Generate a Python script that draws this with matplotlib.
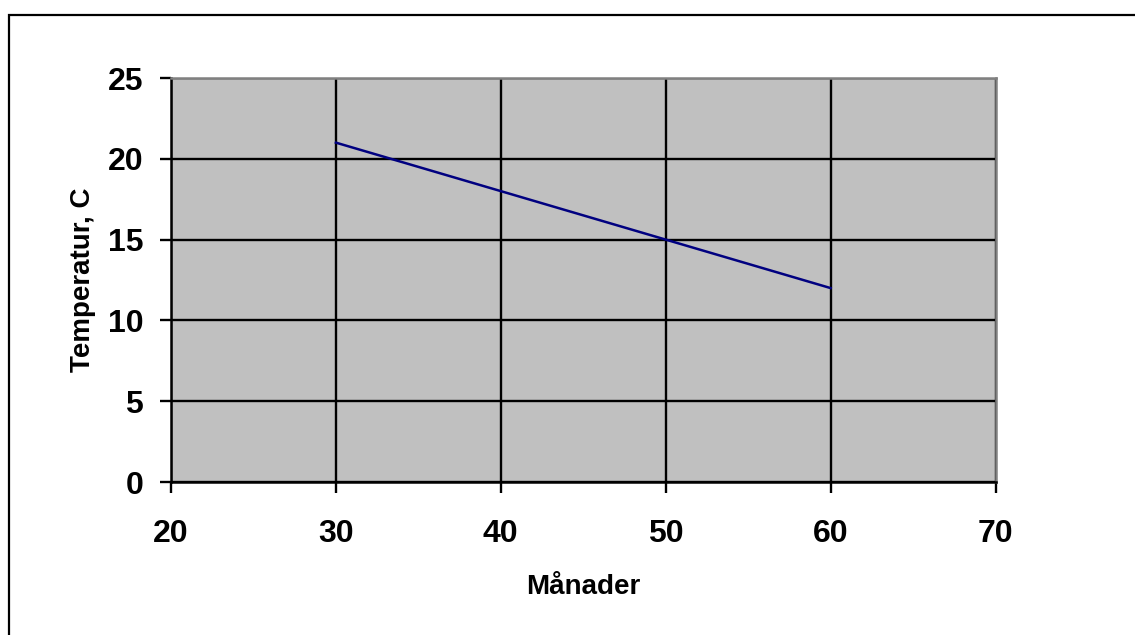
import matplotlib.pyplot as plt
from matplotlib.patches import Rectangle

# Data
months = [30, 40, 50, 60]
temps = [21, 18, 15, 12]
x_ticks = [20, 30, 40, 50, 60, 70]
y_ticks = [0, 5, 10, 15, 20, 25]

W, H = 1135, 635
plt.rcParams['font.family'] = ['Liberation Sans', 'DejaVu Sans']
plt.rcParams['font.weight'] = 'bold'

fig = plt.figure(figsize=(W / 100, H / 100), dpi=100)

# outer chart border (runs off the right and bottom edges)
fig.patches.append(Rectangle((9 / W, -0.2), 1.3, (H - 15) / H + 0.2,
                             transform=fig.transFigure, fill=False,
                             edgecolor='black', linewidth=1.6))

left, right, top, bottom = 171, 995.5, 78, 482
ax = fig.add_axes([left / W, (H - bottom) / H, (right - left) / W, (bottom - top) / H])
ax.set_facecolor('#C0C0C0')

ax.plot(months, temps, color='#000080', linewidth=1.8, zorder=3)

ax.set_xlim(20, 70)
ax.set_ylim(0, 25)
ax.set_xticks(x_ticks)
ax.set_yticks(y_ticks)
ax.grid(True, color='black', linewidth=1.7, zorder=1)
ax.set_axisbelow(True)

for side in ['left', 'bottom']:
    ax.spines[side].set_color('black')
    ax.spines[side].set_linewidth(1.8)
for side in ['top', 'right']:
    ax.spines[side].set_color('#808080')
    ax.spines[side].set_linewidth(1.8)

ax.tick_params(axis='both', direction='out', length=8, width=1.7, labelsize=23)
ax.tick_params(axis='x', pad=19)
ax.tick_params(axis='y', pad=12)
for lbl in ax.get_xticklabels() + ax.get_yticklabels():
    lbl.set_fontweight('bold')

ax.set_xlabel('Månader', fontsize=20, fontweight='bold', labelpad=18)
ax.set_ylabel('Temperatur, C', fontsize=20, fontweight='bold', labelpad=8)

fig.savefig('out.png', dpi=100)
